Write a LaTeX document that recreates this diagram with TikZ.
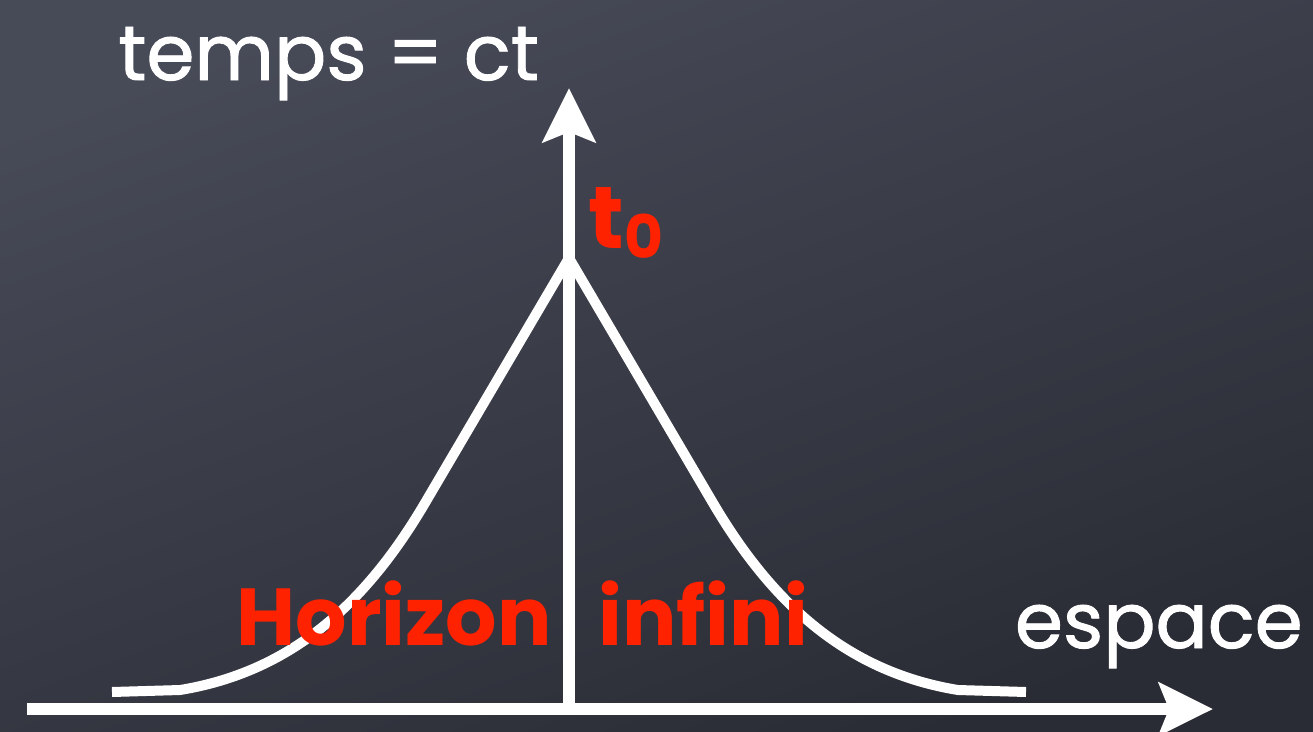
\documentclass[tikz,border=0pt]{standalone}
\usepackage{fontspec}
\setmainfont{Poppins}
\newfontfamily\chalkfont[FakeBold=1.2]{Poppins}
\usetikzlibrary{arrows.meta}
\definecolor{chalkred}{HTML}{FF2200}
\definecolor{boardtop}{HTML}{474A57}
\definecolor{boardbot}{HTML}{2A2C35}
\tikzset{
  axis/.style={white, line width=0.25cm, -{Stealth[length=1.08cm, width=1.05cm, inset=0.2cm]}},
  curve/.style={white, line width=0.2cm},
  whitelabel/.style={white, inner sep=0, font=\chalkfont\fontsize{44}{50}\selectfont},
  redlabel/.style={chalkred, inner sep=0, font=\fontsize{46}{52}\selectfont\bfseries},
}
\begin{document}
\begin{tikzpicture}[x=0.02cm, y=-0.02cm]
  \shade[top color=boardtop, bottom color=boardbot, shading angle=20] (0,0) rectangle (1313,731);
  \useasboundingbox (0,0) rectangle (1313,731);
  % axes
  \coordinate (O) at (569,709);
  \coordinate (xl) at (27,709);
  \coordinate (xr) at (1213,709);
  \coordinate (yt) at (569,88);
  \coordinate (peak) at (569,258);
  \coordinate (lend) at (112,692);
  \coordinate (rend) at (1026,692);
  % curve
  \draw[curve, line join=round] (lend) -- (180,690)
     .. controls (290,672) and (365,605) .. (425,503) -- (peak)
     -- (713,503) .. controls (773,605) and (848,672) .. (958,690) -- (rend);
  \draw[axis] (xl) -- (xr);
  \draw[axis] (O) -- (yt);
  % labels
  \node[whitelabel, anchor=base west] (time) at (118,80) {temps = ct};
  \node[whitelabel, anchor=base east] (space) at (1303,648) {espace};
  \node[redlabel, anchor=base east] (hor) at (552,645) {Horizon};
  \node[redlabel, anchor=base west] (inf) at (598,645) {infini};
  \node[redlabel, anchor=base west] (t0) at (588,248) {\fontsize{50}{56}\selectfont t\raisebox{-0.12em}{\fontsize{34}{40}\selectfont 0}};
\end{tikzpicture}
\end{document}
